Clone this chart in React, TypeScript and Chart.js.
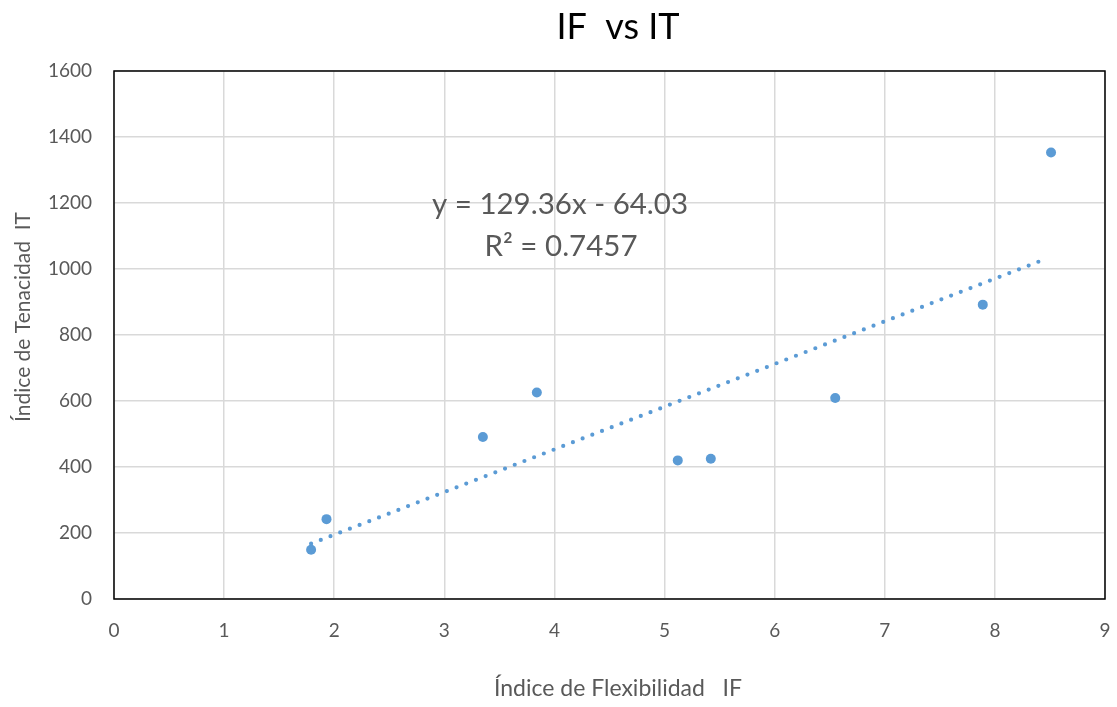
import React, { useEffect, useRef } from "react";
import { Chart, registerables } from "chart.js";

Chart.register(...registerables);

const titleText = "IF  vs IT";
const xAxisTitle = "Índice de Flexibilidad   IF";
const yAxisTitle = "Índice de Tenacidad  IT";

const ifValues = [1.79, 1.93, 3.35, 3.84, 5.12, 5.42, 6.55, 7.89, 8.51];
const itValues = [149, 242, 491, 626, 420, 425, 609, 892, 1353];

const trendSlope = 129.36;
const trendIntercept = -64.03;
const trendXRange = [1.79, 8.44];
const equationLines = ["y = 129.36x - 64.03", "R² = 0.7457"];

const xTicksMin = 0;
const xTicksMax = 9;
const yTicksMin = 0;
const yTicksMax = 1600;
const yStep = 200;

const FONT = "Lato, 'Open Sans', sans-serif";
const BLUE = "#5B9BD5";
const TEXT = "#595959";

export default function App() {
  const ref = useRef<HTMLCanvasElement | null>(null);

  useEffect(() => {
    document.body.style.margin = "0";
    const canvas = ref.current;
    if (!canvas) return;

    const textPlugin = {
      id: "excelText",
      beforeDatasetsDraw(chart: any) {
        const { ctx, chartArea } = chart;
        ctx.save();
        ctx.strokeStyle = "#000";
        ctx.lineWidth = 1.5;
        ctx.strokeRect(
          chartArea.left,
          chartArea.top,
          chartArea.right - chartArea.left,
          chartArea.bottom - chartArea.top
        );
        ctx.restore();
      },
      afterDraw(chart: any) {
        const { ctx } = chart;
        ctx.save();
        ctx.textAlign = "center";
        ctx.textBaseline = "middle";
        // title
        ctx.fillStyle = "#000";
        ctx.font = `36px ${FONT}`;
        ctx.fillText(titleText, 618, 27);
        // equation
        ctx.fillStyle = TEXT;
        ctx.font = `29.5px ${FONT}`;
        ctx.fillText(equationLines[0], 560, 204);
        ctx.fillText(equationLines[1], 561, 246);
        // x axis title
        ctx.font = `23px ${FONT}`;
        ctx.fillText(xAxisTitle, 618, 689);
        // y axis title
        ctx.font = `21px ${FONT}`;
        ctx.translate(23, 317);
        ctx.rotate(-Math.PI / 2);
        ctx.fillText(yAxisTitle, 0, 0);
        ctx.restore();
      },
    };

    const scatterData = ifValues.map((x, i) => ({ x, y: itValues[i] }));
    const trendData = trendXRange.map((x) => ({ x, y: trendSlope * x + trendIntercept }));

    const chart = new Chart(canvas, {
      type: "scatter",
      data: {
        datasets: [
          {
            label: "Trend",
            data: trendData,
            showLine: true,
            borderColor: BLUE,
            borderWidth: 4.2,
            borderDash: [0, 10.4],
            borderCapStyle: "round",
            pointRadius: 0,
            fill: false,
          } as any,
          {
            label: "IT",
            data: scatterData,
            backgroundColor: BLUE,
            borderColor: BLUE,
            pointRadius: 5,
            pointBorderWidth: 0,
          },
        ],
      },
      options: {
        responsive: false,
        animation: false,
        layout: { padding: { top: 71, right: 0, left: 0, bottom: 0 } },
        plugins: {
          legend: { display: false },
          title: { display: false },
          tooltip: { enabled: false },
        },
        scales: {
          x: {
            type: "linear",
            min: xTicksMin,
            max: xTicksMax,
            ticks: {
              stepSize: 1,
              color: TEXT,
              font: { family: FONT, size: 19 },
              padding: 20,
              callback: (v: any) => String(v),
            },
            grid: { color: "#D9D9D9", lineWidth: 1.5, drawTicks: false },
            border: { display: false },
            afterFit(scale: any) {
              scale.height = 108;
              scale.paddingRight = 12;
              scale.paddingLeft = 0;
            },
          },
          y: {
            type: "linear",
            min: yTicksMin,
            max: yTicksMax,
            ticks: {
              stepSize: yStep,
              color: TEXT,
              font: { family: FONT, size: 19 },
              padding: 22,
              callback: (v: any) => String(v),
            },
            grid: { color: "#D9D9D9", lineWidth: 1.5, drawTicks: false },
            border: { display: false },
            afterFit(scale: any) {
              scale.width = 114;
            },
          },
        },
      },
      plugins: [textPlugin],
    });

    return () => chart.destroy();
  }, []);

  return (
    <div style={{ width: 1117, height: 707, background: "#fff" }}>
      <canvas ref={ref} width={1117} height={707} />
    </div>
  );
}
